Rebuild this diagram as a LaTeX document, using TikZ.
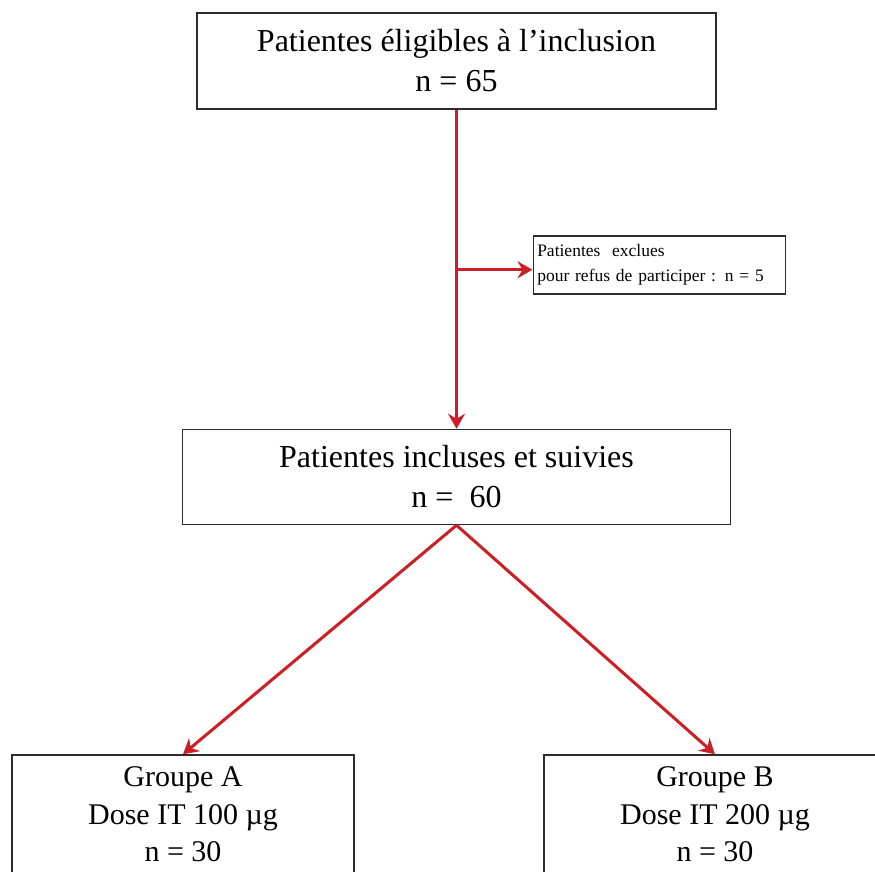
\documentclass[tikz,border=0pt]{standalone}
\usepackage{fontspec}
\setmainfont{Liberation Serif}
\usetikzlibrary{arrows.meta,positioning}
\definecolor{flowred}{RGB}{204,30,36}
\definecolor{boxgray}{RGB}{45,45,45}

\begin{document}
\begin{tikzpicture}[>={Stealth[length=15pt,width=17pt,inset=5pt]},x=1pt,y=1pt,
    box/.style={draw=boxgray,line width=1.5pt,align=center,inner sep=0pt},
    flow/.style={->,draw=flowred,line width=3pt}]
    \useasboundingbox (0,0) rectangle (875,-872);
    \node[box,minimum width=519pt,minimum height=96pt,font=\fontsize{32}{40}\selectfont] (elig) at (456.5,-61) {Patientes éligibles à l’inclusion\\n = 65};
    \node[box,minimum width=548pt,minimum height=95pt,font=\fontsize{32}{40}\selectfont] (incl) [below=319pt of elig] {Patientes incluses et suivies\\n = \ 60};
    \coordinate[below=160pt of elig.south] (split);
    \node[box,align=left,text width=244pt,inner xsep=4pt,minimum height=58pt,font=\fontsize{17.5}{25}\selectfont] (excl) [right=76pt of split,yshift=5pt] {Patientes\ \ exclues\\pour refus de participer : n = 5};
    \node[box,minimum width=342pt,inner ysep=12pt,font=\fontsize{30}{37.5}\selectfont] (grpA) [below=229pt of incl.south,xshift=-273.5pt] {Groupe A\\Dose IT 100 µg\\n = 30};
    \node[box,minimum width=342pt,inner ysep=12pt,font=\fontsize{30}{37.5}\selectfont] (grpB) [below=229pt of incl.south,xshift=258.5pt] {Groupe B\\Dose IT 200 µg\\n = 30};
    \draw[flow] (elig) -- (incl);
    \draw[flow] (split) -- (split -| excl.west);
    \draw[flow] (incl.south) -- (grpA.north);
    \draw[flow] (incl.south) -- (grpB.north);
\end{tikzpicture}
\end{document}
